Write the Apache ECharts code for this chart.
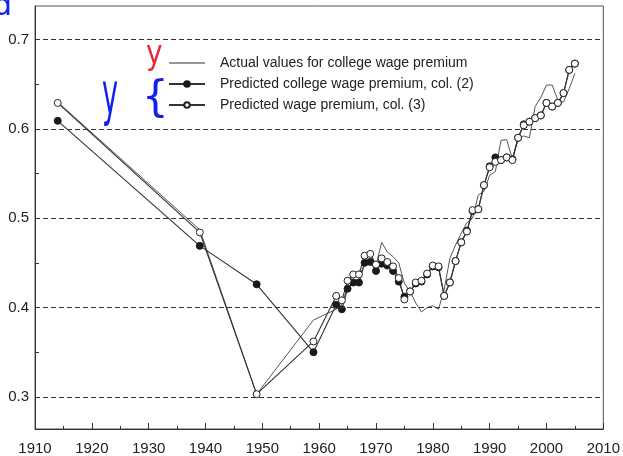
<!DOCTYPE html>
<html>
<head>
<meta charset="utf-8">
<script src="https://cdn.jsdelivr.net/npm/echarts@6/dist/echarts.min.js"></script>
<style>
  html, body { margin: 0; padding: 0; background: #fff; }
  #chart { width: 623px; height: 456px; }
</style>
</head>
<body>
<div id="chart"></div>
<script>
const years = [1914, 1939, 1949, 1959, 1963, 1964, 1965, 1966, 1967, 1968, 1969, 1970,
  1971, 1972, 1973, 1974, 1975, 1976, 1977, 1978, 1979, 1980, 1981, 1982, 1983, 1984,
  1985, 1986, 1987, 1988, 1989, 1990, 1991, 1992, 1993, 1994, 1995, 1996, 1997, 1998,
  1999, 2000, 2001, 2002, 2003, 2004, 2005]

const actualValues = [0.630, 0.487, 0.303, 0.386, 0.398, 0.404, 0.423, 0.438, 0.435, 0.448, 0.453, 0.447,
  0.473, 0.462, 0.457, 0.450, 0.427, 0.418, 0.405, 0.395, 0.400, 0.402, 0.398, 0.420, 0.455, 0.470,
  0.483, 0.495, 0.500, 0.526, 0.530, 0.548, 0.552, 0.587, 0.588, 0.566, 0.588, 0.592, 0.590, 0.625,
  0.635, 0.649, 0.649, 0.632, 0.630, 0.645, 0.662]

const col2Values = [0.609, 0.469, 0.426, 0.350, 0.403, 0.398, 0.421, 0.428, 0.428, 0.450, 0.451, 0.441,
  0.449, 0.447, 0.441, 0.429, 0.412, 0.418, 0.427, 0.429, 0.437, 0.446, 0.445, 0.413, 0.428, 0.452,
  0.473, 0.486, 0.508, 0.510, 0.537, 0.558, 0.568, 0.565, 0.568, 0.566, 0.590, 0.605, 0.608, 0.612,
  0.615, 0.629, 0.625, 0.629, 0.640, 0.666, 0.673]

const col3Values = [0.629, 0.484, 0.303, 0.362, 0.413, 0.408, 0.430, 0.437, 0.437, 0.458, 0.460, 0.448,
  0.455, 0.451, 0.446, 0.433, 0.409, 0.418, 0.428, 0.430, 0.438, 0.447, 0.446, 0.413, 0.428, 0.452,
  0.473, 0.485, 0.509, 0.510, 0.537, 0.557, 0.563, 0.565, 0.568, 0.565, 0.590, 0.604, 0.608, 0.612,
  0.615, 0.629, 0.625, 0.629, 0.640, 0.666, 0.673]

const yLabelValues = [0.3, 0.4, 0.5, 0.6, 0.7]
const yTickValues = [0.3, 0.35, 0.4, 0.45, 0.5, 0.55, 0.6, 0.65, 0.7]

const seriesNames = [
  'Actual values for college wage premium',
  'Predicted college wage premium, col. (2)',
  'Predicted wage premium, col. (3)'
]

const pairs = values => years.map((year, i) => [year, values[i]])

const chart = echarts.init(document.getElementById('chart'))

chart.setOption({
  animation: false,
  textStyle: { fontFamily: 'Liberation Sans, Arial, sans-serif' },
  grid: {
    left: 35,
    right: 16,
    top: 6,
    bottom: 27,
    show: true,
    borderColor: '#555',
    borderWidth: 1
  },
  legend: {
    orient: 'vertical',
    left: 163,
    top: 51,
    itemWidth: 36,
    itemHeight: 7,
    itemGap: 7,
    data: [
      { name: seriesNames[0], icon: 'path://M0,0H36V1H0Z', itemStyle: { color: '#333' } },
      { name: seriesNames[1] },
      { name: seriesNames[2] }
    ],
    textStyle: {
      fontSize: 14,
      lineHeight: 14,
      color: '#222',
      padding: [0, 0, 0, 10]
    }
  },
  xAxis: {
    type: 'value',
    min: 1910,
    max: 2010,
    interval: 10,
    axisLine: { lineStyle: { color: '#333' } },
    axisTick: { inside: true, length: 6, lineStyle: { color: '#333' } },
    minorTick: { show: true, splitNumber: 2, length: 3, lineStyle: { color: '#333' } },
    splitLine: { show: false },
    axisLabel: { fontSize: 15, color: '#222', margin: 12, formatter: value => String(value) }
  },
  yAxis: {
    type: 'value',
    min: 0.264,
    max: 0.7375,
    axisLine: { show: true, lineStyle: { color: '#333' } },
    axisTick: { show: true, inside: true, length: 4, customValues: yTickValues, lineStyle: { color: '#333' } },
    splitLine: { show: false },
    axisLabel: {
      fontSize: 15,
      color: '#222',
      margin: 6,
      customValues: yLabelValues,
      formatter: value => value.toFixed(1)
    }
  },
  graphic: [
    { type: 'text', left: -7, top: -8, style: { text: 'd', fontSize: 30, fill: '#1020f0', fontFamily: 'DejaVu Sans' } },
    { type: 'text', left: 146, top: 38, scaleY: 1.2, style: { text: 'y', fontSize: 28, fill: '#e8283c', fontFamily: 'DejaVu Sans' } },
    { type: 'text', left: 102, top: 70, scaleX: 0.8, scaleY: 1.7, style: { text: 'y', fontSize: 34, fill: '#1020f0', fontFamily: 'DejaVu Sans' } },
    { type: 'text', left: 142, top: 79, style: { text: '{', fontSize: 42, fill: '#1020f0', fontFamily: 'DejaVu Sans' } }
  ],
  series: [
    {
      name: seriesNames[0],
      type: 'line',
      symbol: 'none',
      lineStyle: { color: '#555', width: 1 },
      itemStyle: { color: '#333' },
      data: pairs(actualValues),
      markLine: {
        silent: true,
        symbol: 'none',
        label: { show: false },
        lineStyle: { color: '#333', width: 1, type: [5, 3] },
        data: yLabelValues.map(v => ({ yAxis: v }))
      }
    },
    {
      name: seriesNames[1],
      type: 'line',
      symbol: 'circle',
      symbolSize: 7,
      lineStyle: { color: '#333', width: 1.1 },
      itemStyle: { color: '#1a1a1a', borderColor: '#1a1a1a', borderWidth: 1 },
      data: pairs(col2Values)
    },
    {
      name: seriesNames[2],
      type: 'line',
      symbol: 'circle',
      symbolSize: 7,
      lineStyle: { color: '#333', width: 1.1 },
      itemStyle: { color: '#fff', borderColor: '#222', borderWidth: 1 },
      data: pairs(col3Values)
    }
  ]
})
</script>
</body>
</html>
